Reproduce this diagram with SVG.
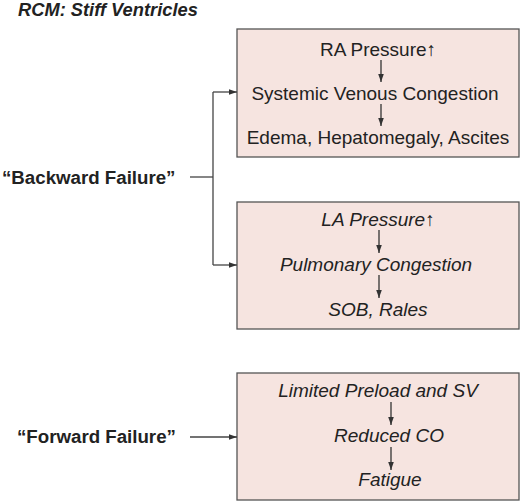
<svg xmlns="http://www.w3.org/2000/svg" width="520" height="502" viewBox="0 0 520 502">
<defs>
<marker id="ah" viewBox="0 0 10 10" refX="10" refY="5" markerWidth="9" markerHeight="8" orient="auto" markerUnits="userSpaceOnUse">
<path d="M0,1.5 L10,5 L0,8.5 Z" fill="#333"/>
</marker>
<marker id="ahs" viewBox="0 0 10 10" refX="10" refY="5" markerWidth="10" markerHeight="8" orient="auto" markerUnits="userSpaceOnUse">
<path d="M0,1.5 L10,5 L0,8.5 Z" fill="#333"/>
</marker>
<style>
.box{fill:#f6e4e0;stroke:#555;stroke-width:1.3}
.t{font-family:"Liberation Sans",Arial,sans-serif;font-size:19px;fill:#222;text-anchor:middle}
.i{font-style:italic}
.lbl{font-family:"Liberation Sans",Arial,sans-serif;font-size:18.7px;font-weight:bold;fill:#222}
.ln{stroke:#444;stroke-width:1.3;fill:none}
.in{stroke:#333;stroke-width:1.3;fill:none}
</style>
</defs>
<text x="18" y="16" class="lbl" style="font-style:italic;font-size:18.3px">RCM: Stiff Ventricles</text>
<g id="box-ra">
<rect class="box" x="237" y="29" width="282" height="128"/>
<text class="t" x="378" y="56">RA Pressure↑</text>
<text class="t" x="375" y="100">Systemic Venous Congestion</text>
<text class="t" x="378" y="144">Edema, Hepatomegaly, Ascites</text>
<line class="in" x1="381" y1="60" x2="381" y2="82" marker-end="url(#ahs)"/>
<line class="in" x1="381" y1="104" x2="381" y2="126" marker-end="url(#ahs)"/>
</g>
<g id="box-la">
<rect class="box" x="237" y="202" width="282" height="127"/>
<text class="t i" x="378" y="226">LA Pressure↑</text>
<text class="t i" x="376" y="271">Pulmonary Congestion</text>
<text class="t i" x="378" y="316">SOB, Rales</text>
<line class="in" x1="379" y1="230" x2="379" y2="253" marker-end="url(#ahs)"/>
<line class="in" x1="379" y1="275" x2="379" y2="298" marker-end="url(#ahs)"/>
</g>
<g id="box-fwd">
<rect class="box" x="237" y="373" width="282" height="127"/>
<text class="t i" x="378" y="397">Limited Preload and SV</text>
<text class="t i" x="389" y="442">Reduced CO</text>
<text class="t i" x="390" y="486">Fatigue</text>
<line class="in" x1="391" y1="402" x2="391" y2="425" marker-end="url(#ahs)"/>
<line class="in" x1="391" y1="447" x2="391" y2="470" marker-end="url(#ahs)"/>
</g>
<g id="label-backward">
<text class="lbl" x="2" y="184">“Backward Failure”</text>
</g>
<g id="label-forward">
<text class="lbl" x="17" y="443">“Forward Failure”</text>
</g>
<g id="connectors">
<line class="ln" x1="190" y1="177" x2="213" y2="177"/>
<line class="ln" x1="213" y1="92" x2="213" y2="265"/>
<line class="ln" x1="213" y1="92" x2="237" y2="92" marker-end="url(#ah)"/>
<line class="ln" x1="213" y1="265" x2="237" y2="265" marker-end="url(#ah)"/>
<line class="ln" x1="190" y1="437" x2="237" y2="437" marker-end="url(#ah)"/>
</g>
</svg>
